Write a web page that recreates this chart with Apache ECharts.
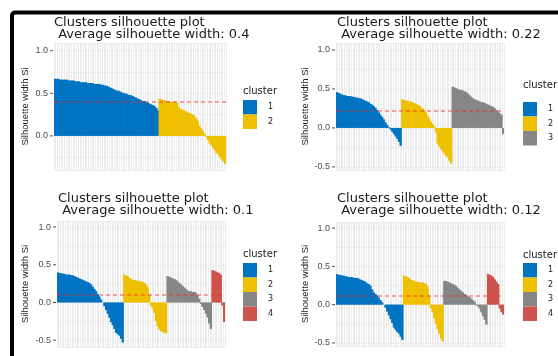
<!DOCTYPE html>
<html><head><meta charset="utf-8">
<script src="https://cdn.jsdelivr.net/npm/echarts@6/dist/echarts.min.js"></script>
<style>html,body{margin:0;padding:0;background:#fff}#c{width:558px;height:356px}</style>
</head><body><div id="c"></div>
<script>
const clusterNames = ['1', '2', '3', '4'];
const avgWidths = [0.4, 0.22, 0.1, 0.12];
const titleLine1 = 'Clusters silhouette plot';
const titleLine2 = ' Average silhouette width: ';
const yAxisTitle = 'Silhouette width Si';
const legendTitle = 'cluster';

// Panel 1 (k = 2)
const p1_c1 = [0.67,0.67,0.67,0.66,0.66,0.66,0.66,0.66,0.65,0.65,
  0.65,0.65,0.64,0.64,0.64,0.63,0.63,0.63,0.63,0.62,
  0.62,0.62,0.62,0.61,0.61,0.61,0.61,0.60,0.60,0.59,
  0.59,0.58,0.57,0.56,0.55,0.54,0.53,0.53,0.52,0.51,
  0.50,0.50,0.49,0.48,0.48,0.47,0.46,0.45,0.44,0.43,
  0.42,0.41,0.41,0.40,0.39,0.38,0.37,0.36,0.35,0.33,0.30];
const p1_c2 = [0.44,0.43,0.42,0.42,0.41,0.41,0.40,0.40,0.40,0.40,
  0.39,0.34,0.32,0.31,0.30,0.29,0.28,0.27,0.26,0.25,
  0.24,0.21,0.18,0.12,0.09,0.06,0.03,-0.01,-0.05,-0.09,
  -0.11,-0.14,-0.17,-0.20,-0.22,-0.25,-0.28,-0.30,-0.33];

// Panel 2 (k = 3)
const p2_c1 = [0.46,0.45,0.44,0.43,0.42,0.42,0.41,0.41,0.41,0.40,
  0.40,0.39,0.39,0.38,0.38,0.37,0.36,0.35,0.34,0.33,
  0.31,0.30,0.28,0.26,0.23,0.20,0.17,0.14,0.11,0.07,
  0.04,0.01,-0.02,-0.05,-0.08,-0.11,-0.14,-0.18,-0.23];
const p2_c2 = [0.37,0.36,0.35,0.35,0.34,0.34,0.33,0.32,0.31,0.30,
  0.29,0.27,0.25,0.23,0.20,0.16,0.12,0.08,0.05,0.02,
  -0.06,-0.20,-0.24,-0.27,-0.30,-0.33,-0.36,-0.38,-0.42,-0.46];
const p2_c3 = [0.53,0.52,0.51,0.50,0.49,0.49,0.48,0.47,0.46,0.44,
  0.42,0.40,0.38,0.37,0.36,0.35,0.34,0.33,0.33,0.32,
  0.31,0.30,0.29,0.28,0.27,0.25,0.23,0.21,0.19,0.17,-0.08];

// Panel 3 (k = 4)
const p3_c1 = [0.40,0.39,0.39,0.38,0.38,0.37,0.37,0.37,0.36,0.36,
  0.35,0.34,0.33,0.32,0.31,0.30,0.29,0.28,0.27,0.26,
  0.24,0.21,0.18,0.15,0.11,0.08,0.04,0.00,-0.05,-0.10,
  -0.15,-0.20,-0.26,-0.30,-0.35,-0.40,-0.42,-0.44,-0.48,-0.53];
const p3_c2 = [0.37,0.36,0.35,0.33,0.31,0.30,0.30,0.29,0.29,0.28,
  0.28,0.27,0.26,0.24,0.20,0.10,-0.04,-0.08,-0.14,-0.25,
  -0.32,-0.36,-0.38,-0.39,-0.40,-0.41];
const p3_c3 = [0.35,0.34,0.33,0.32,0.31,0.30,0.28,0.26,0.24,0.22,
  0.20,0.18,0.16,0.15,0.15,0.14,0.14,0.13,0.10,0.05,
  -0.02,-0.06,-0.10,-0.15,-0.20,-0.28,-0.35];
const p3_c4 = [0.43,0.42,0.41,0.40,0.39,0.37,-0.04,-0.26];

// Panel 4 (k = 4)
const p4_c1 = [0.40,0.39,0.39,0.38,0.38,0.37,0.37,0.36,0.36,0.36,
  0.35,0.35,0.35,0.34,0.33,0.32,0.31,0.30,0.28,0.27,
  0.25,0.20,0.16,0.14,0.12,0.09,0.06,0.03,0.00,-0.04,
  -0.09,-0.14,-0.19,-0.24,-0.30,-0.33,-0.36,-0.38,-0.42,-0.46];
const p4_c2 = [0.38,0.37,0.36,0.35,0.33,0.32,0.31,0.30,0.30,0.29,
  0.29,0.29,0.28,0.27,0.24,0.12,-0.05,-0.10,-0.18,-0.25,
  -0.32,-0.38,-0.44,-0.48];
const p4_c3 = [0.31,0.31,0.30,0.29,0.28,0.27,0.26,0.24,0.22,0.20,
  0.18,0.16,0.14,0.13,0.11,0.10,0.08,0.06,0.04,-0.01,
  -0.02,-0.05,-0.10,-0.15,-0.20,-0.26];
const p4_c4 = [0.40,0.39,0.38,0.36,0.33,0.30,0.27,-0.05,-0.10,-0.13];

const panelData = [
  [p1_c1, p1_c2],
  [p2_c1, p2_c2, p2_c3],
  [p3_c1, p3_c2, p3_c3, p3_c4],
  [p4_c1, p4_c2, p4_c3, p4_c4]
];

const colors = ['#0073C2', '#EFC000', '#868686', '#CD534C'];
const layout = [
  {grid: {left: 54, top: 43, width: 172, height: 127}, min: -0.40, max: 1.09, nameGap: 24,
   title: {left: 54, top: 16}, legTitle: {left: 243, top: 85}, legend: {left: 243, top: 100}},
  {grid: {left: 336, top: 43, width: 168, height: 127}, min: -0.54, max: 1.09, nameGap: 26,
   title: {left: 337, top: 16}, legTitle: {left: 523, top: 79}, legend: {left: 523, top: 102}},
  {grid: {left: 57, top: 221, width: 168, height: 126}, min: -0.59, max: 1.08, nameGap: 27,
   title: {left: 58, top: 192}, legTitle: {left: 243, top: 248}, legend: {left: 243, top: 263}},
  {grid: {left: 336, top: 222, width: 168, height: 124}, min: -0.54, max: 1.08, nameGap: 26,
   title: {left: 337, top: 192}, legTitle: {left: 523, top: 249}, legend: {left: 523, top: 263}}
];

const isHalf = v => Math.abs(v * 2 - Math.round(v * 2)) < 1e-6;

const grids = [], xAxes = [], yAxes = [], series = [], titles = [], legends = [];
panelData.forEach((clusters, p) => {
  const L = layout[p];
  const N = clusters.reduce((s, a) => s + a.length, 0);
  const cats = Array.from({length: N}, (_, i) => String(i + 1));
  // slightly wider than the band so adjacent bars overlap and leave no anti-aliasing seams
  const barW = L.grid.width / N + 0.7;
  grids.push(Object.assign({containLabel: false}, L.grid));
  xAxes.push({
    type: 'category', gridIndex: p, data: cats, boundaryGap: true,
    axisLine: {show: false}, axisTick: {show: false}, axisLabel: {show: false},
    splitLine: {show: true, interval: 0, lineStyle: {color: '#ececec', width: 1}}
  });
  yAxes.push({
    type: 'value', gridIndex: p, min: L.min, max: L.max,
    minInterval: 0.25, maxInterval: 0.25, splitNumber: 6,
    name: yAxisTitle, nameLocation: 'middle', nameGap: L.nameGap,
    nameTextStyle: {fontFamily: 'Liberation Sans', fontSize: 9.5, color: '#1a1a1a'},
    axisLine: {show: false}, axisTick: {show: false},
    axisLabel: {
      margin: 1,
      formatter: v => isHalf(v) ? '{v|' + v.toFixed(1) + '}{t|}' : '',
      rich: {
        v: {fontFamily: 'Liberation Sans', fontSize: 9, color: '#4d4d4d', padding: [0, 2, 0, 0]},
        t: {width: 3, height: 1, backgroundColor: '#4d4d4d'}
      }
    },
    splitLine: {show: true, lineStyle: {color: '#ebebeb', width: 1}}
  });
  let off = 0;
  clusters.forEach((arr, k) => {
    const data = new Array(N).fill(null);
    arr.forEach((v, j) => { data[off + j] = v; });
    off += arr.length;
    const s = {
      type: 'bar', name: clusterNames[k], xAxisIndex: p, yAxisIndex: p,
      stack: 'panel' + p, data: data, barWidth: barW, silent: true,
      itemStyle: {color: colors[k]}
    };
    if (k === 0) {
      s.markLine = {
        symbol: 'none', silent: true, label: {show: false},
        lineStyle: {type: [4, 3], color: 'rgba(240,40,40,0.55)', width: 1.5},
        data: [{yAxis: avgWidths[p]}]
      };
    }
    series.push(s);
  });
  titles.push({
    left: L.title.left, top: L.title.top, padding: 0,
    text: titleLine1 + '\n' + titleLine2 + String(avgWidths[p]),
    textStyle: {fontFamily: 'DejaVu Sans', fontSize: 13, fontWeight: 'normal', color: '#1a1a1a', lineHeight: 12.5}
  });
  titles.push({
    left: L.legTitle.left, top: L.legTitle.top, padding: 0, text: legendTitle,
    textStyle: {fontFamily: 'DejaVu Sans', fontSize: 10, fontWeight: 'normal', color: '#1a1a1a', lineHeight: 12}
  });
  legends.push({
    left: L.legend.left, top: L.legend.top, orient: 'vertical', padding: 0,
    data: clusterNames.slice(0, clusters.length), icon: 'rect',
    itemWidth: 14, itemHeight: 14.5, itemGap: 0, selectedMode: false,
    itemStyle: {borderWidth: 0},
    textStyle: {fontFamily: 'DejaVu Sans', fontSize: 8, color: '#1a1a1a', padding: [0, 0, 0, 6]}
  });
});

const chart = echarts.init(document.getElementById('c'), null, {renderer: 'canvas'});
chart.setOption({
  animation: false,
  backgroundColor: '#ffffff',
  title: titles,
  legend: legends,
  grid: grids,
  xAxis: xAxes,
  yAxis: yAxes,
  series: series,
  graphic: [{
    type: 'rect', silent: true, z: 100,
    shape: {x: 12, y: 12.5, width: 620, height: 420, r: 3},
    style: {fill: 'none', stroke: '#000', lineWidth: 4}
  }]
});
</script>
</body></html>
